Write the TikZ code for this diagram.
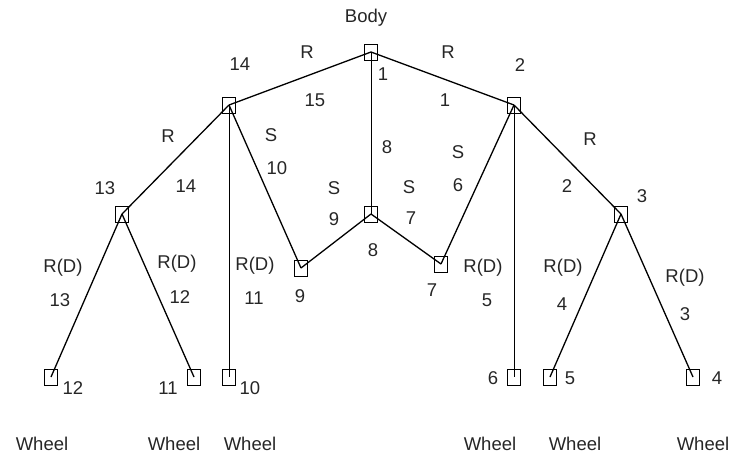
\documentclass[tikz,border=0pt]{standalone}
\usepackage{fontspec}
\setmainfont{Liberation Sans}
\begin{document}
\begin{tikzpicture}[x=1pt,y=-1pt,
  box/.style={draw, line width=1pt, minimum width=13pt, minimum height=16pt, inner sep=0pt},
  lbl/.style={font=\fontsize{18.5}{21}\selectfont, inner sep=0pt, text=black!85},
  link/.style={line width=1.3pt},
  vlink/.style={line width=0.9pt}]
\useasboundingbox (0,0) rectangle (732,456);
% joints
\node[box] (n1) at (371,52) {};
\node[box] (n14) at (229,105) {};
\node[box] (n2) at (514,105) {};
\node[box] (n13) at (122,214) {};
\node[box] (n3) at (621,214) {};
\node[box] (n8) at (371,214) {};
\node[box] (n9) at (301,268) {};
\node[box] (n7) at (441,264) {};
\node[box] (n12) at (51,377) {};
\node[box] (n11) at (194,377) {};
\node[box] (n10) at (229,377) {};
\node[box] (n6) at (514,377) {};
\node[box] (n5) at (550,377) {};
\node[box] (n4) at (693,377) {};
% links
\draw[link] (n1.center) -- (n14.center);
\draw[link] (n1.center) -- (n2.center);
\draw[vlink] (n1.center) -- (n8.center);
\draw[link] (n14.center) -- (n13.center);
\draw[link] (n14.center) -- (n9.center);
\draw[vlink] (n14.center) -- (n10.center);
\draw[link] (n9.center) -- (n8.center);
\draw[link] (n8.center) -- (n7.center);
\draw[link] (n7.center) -- (n2.center);
\draw[vlink] (n2.center) -- (n6.center);
\draw[link] (n2.center) -- (n3.center);
\draw[link] (n13.center) -- (n12.center);
\draw[link] (n13.center) -- (n11.center);
\draw[link] (n3.center) -- (n5.center);
\draw[link] (n3.center) -- (n4.center);
% labels
\node[lbl] (tbody) at (366,18) {Body};
\node[lbl] (t14a) at (240,64) {14};
\node[lbl] (tRa) at (307,52) {R};
\node[lbl] (tRb) at (448,52) {R};
\node[lbl] (t2a) at (520,65) {2};
\node[lbl] (t1a) at (383,74) {1};
\node[lbl] (t15) at (315,100) {15};
\node[lbl] (t1b) at (445,100) {1};
\node[lbl] (tRc) at (168,136) {R};
\node[lbl] (tSa) at (271,135) {S};
\node[lbl] (t8a) at (387,147) {8};
\node[lbl] (tSb) at (458,152) {S};
\node[lbl] (tRd) at (590,139) {R};
\node[lbl] (t10a) at (277,168) {10};
\node[lbl] (t6a) at (458,185) {6};
\node[lbl] (t14b) at (186,186) {14};
\node[lbl] (t13a) at (105,188) {13};
\node[lbl] (tSc) at (334,188) {S};
\node[lbl] (tSd) at (409,187) {S};
\node[lbl] (t2b) at (567,186) {2};
\node[lbl] (t3a) at (642,196) {3};
\node[lbl] (t9a) at (334,219) {9};
\node[lbl] (t7a) at (411,218) {7};
\node[lbl] (t8b) at (373,250) {8};
\node[lbl] (tRDa) at (63,268) {R(D)};
\node[lbl] (tRDb) at (177,264) {R(D)};
\node[lbl] (tRDc) at (255,266) {R(D)};
\node[lbl] (t9b) at (300,296) {9};
\node[lbl] (t7b) at (432,290) {7};
\node[lbl] (tRDd) at (483,268) {R(D)};
\node[lbl] (tRDe) at (563,268) {R(D)};
\node[lbl] (tRDf) at (685,278) {R(D)};
\node[lbl] (t13b) at (60,300) {13};
\node[lbl] (t12a) at (180,297) {12};
\node[lbl] (t11a) at (254,298) {11};
\node[lbl] (t5a) at (487,300) {5};
\node[lbl] (t4a) at (562,304) {4};
\node[lbl] (t3b) at (685,314) {3};
\node[lbl] (t12b) at (73,388) {12};
\node[lbl] (t11b) at (168,388) {11};
\node[lbl] (t10b) at (250,388) {10};
\node[lbl] (t6b) at (493,378) {6};
\node[lbl] (t5b) at (570,378) {5};
\node[lbl] (t4b) at (717,378) {4};
\node[lbl] (w1) at (42,444) {Wheel};
\node[lbl] (w2) at (174,444) {Wheel};
\node[lbl] (w3) at (250,444) {Wheel};
\node[lbl] (w4) at (490,444) {Wheel};
\node[lbl] (w5) at (575,444) {Wheel};
\node[lbl] (w6) at (703,444) {Wheel};
\end{tikzpicture}
\end{document}
